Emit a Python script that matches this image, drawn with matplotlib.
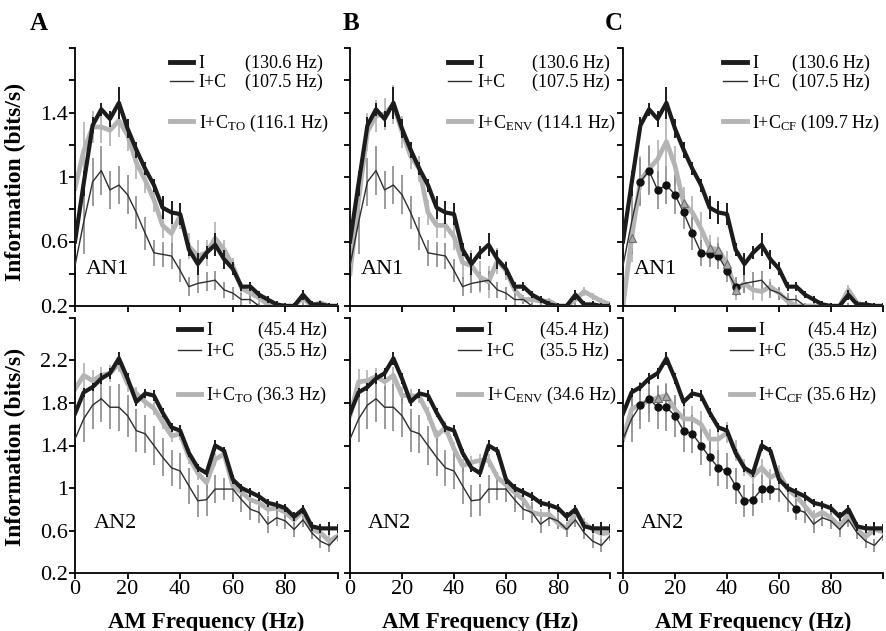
import numpy as np
import matplotlib
matplotlib.use('Agg')
import matplotlib.pyplot as plt
from matplotlib.lines import Line2D

plt.rcParams['font.family'] = ['Liberation Serif', 'DejaVu Serif']
plt.rcParams['mathtext.fontset'] = 'custom'
plt.rcParams['mathtext.rm'] = 'Liberation Serif'
plt.rcParams['mathtext.it'] = 'Liberation Serif:italic'
plt.rcParams['mathtext.bf'] = 'Liberation Serif:bold'

# AM frequency (Hz)
freq = [0, 3.3, 6.7, 10, 13.3, 16.7, 20, 23.3, 26.7, 30, 33.3, 36.7, 40, 43.3, 46.7,
        50, 53.3, 56.7, 60, 63.3, 66.7, 70, 73.3, 76.7, 80, 83.3, 86.7, 90, 93.3, 96.7, 100]

# ---- AN1 (top row) ----
an1_I = [0.60, 0.96, 1.32, 1.42, 1.36, 1.46, 1.30, 1.17, 1.05, 0.95, 0.81, 0.78, 0.77, 0.55, 0.46,
         0.53, 0.58, 0.49, 0.43, 0.32, 0.32, 0.27, 0.24, 0.21, 0.2, 0.2, 0.27, 0.21, 0.21, 0.2, 0.2]
an1_I_err = [0.03, 0.08, 0.05, 0.04, 0.05, 0.10, 0.06, 0.05, 0.04, 0.04, 0.07, 0.07, 0.07, 0.04, 0.07,
             0.04, 0.07, 0.06, 0.04, 0.03, 0.03, 0.02, 0.02, 0.02, 0.02, 0.02, 0.03, 0.02, 0.02, 0.02, 0.02]
an1_IC = [0.45, 0.72, 0.97, 1.04, 0.92, 0.95, 0.89, 0.78, 0.65, 0.53, 0.52, 0.51, 0.42, 0.32, 0.34,
          0.35, 0.36, 0.30, 0.28, 0.24, 0.24, 0.2, 0.2, 0.2, 0.2, 0.2, 0.2, 0.2, 0.2, 0.2, 0.2]
an1_IC_err = [0.10, 0.20, 0.15, 0.15, 0.12, 0.12, 0.12, 0.10, 0.10, 0.08, 0.08, 0.08, 0.07, 0.06, 0.06,
              0.06, 0.06, 0.05, 0.04, 0.04, 0.03, 0.02, 0.02, 0.02, 0.02, 0.02, 0.02, 0.02, 0.02, 0.02, 0.02]
an1_TO = [0.93, 1.16, 1.31, 1.31, 1.29, 1.35, 1.26, 1.09, 0.98, 0.86, 0.70, 0.65, 0.76, 0.57, 0.51,
          0.53, 0.62, 0.55, 0.45, 0.31, 0.28, 0.25, 0.21, 0.2, 0.2, 0.2, 0.25, 0.2, 0.22, 0.2, 0.2]
an1_TO_err = [0.15, 0.18, 0.10, 0.10, 0.10, 0.10, 0.10, 0.10, 0.08, 0.08, 0.08, 0.08, 0.08, 0.08, 0.10,
              0.08, 0.10, 0.06, 0.05, 0.04, 0.03, 0.03, 0.02, 0.02, 0.02, 0.02, 0.03, 0.02, 0.02, 0.02, 0.02]
an1_ENV = [0.40, 0.86, 1.28, 1.38, 1.39, 1.45, 1.28, 1.13, 1.05, 0.78, 0.70, 0.70, 0.63, 0.47, 0.45,
           0.38, 0.35, 0.48, 0.42, 0.30, 0.24, 0.24, 0.23, 0.23, 0.2, 0.2, 0.24, 0.29, 0.26, 0.23, 0.21]
an1_ENV_err = [0.10, 0.18, 0.12, 0.10, 0.10, 0.12, 0.10, 0.08, 0.08, 0.08, 0.08, 0.08, 0.08, 0.10, 0.10,
               0.10, 0.10, 0.08, 0.06, 0.04, 0.03, 0.03, 0.02, 0.02, 0.02, 0.02, 0.03, 0.03, 0.02, 0.02, 0.02]
an1_CF = [0.2, 0.62, 0.98, 1.05, 1.11, 1.22, 1.07, 0.84, 0.78, 0.68, 0.56, 0.55, 0.46, 0.30, 0.34,
          0.30, 0.29, 0.32, 0.28, 0.23, 0.2, 0.2, 0.2, 0.2, 0.2, 0.2, 0.30, 0.22, 0.2, 0.2, 0.2]
an1_CF_err = [0.05, 0.15, 0.15, 0.15, 0.12, 0.15, 0.12, 0.10, 0.10, 0.10, 0.08, 0.08, 0.08, 0.06, 0.06,
              0.06, 0.06, 0.05, 0.04, 0.03, 0.02, 0.02, 0.02, 0.02, 0.02, 0.02, 0.03, 0.02, 0.02, 0.02, 0.02]

# ---- AN2 (bottom row) ----
an2_I = [1.70, 1.90, 1.95, 2.03, 2.08, 2.22, 2.03, 1.81, 1.89, 1.87, 1.71, 1.57, 1.54, 1.33, 1.19,
         1.14, 1.40, 1.35, 1.08, 1.00, 0.96, 0.92, 0.86, 0.84, 0.81, 0.73, 0.80, 0.64, 0.62, 0.62, 0.62]
an2_I_err = [0.04, 0.04, 0.04, 0.05, 0.05, 0.06, 0.05, 0.04, 0.04, 0.05, 0.04, 0.04, 0.05, 0.04, 0.04,
             0.04, 0.05, 0.04, 0.04, 0.04, 0.04, 0.04, 0.04, 0.04, 0.04, 0.04, 0.04, 0.04, 0.04, 0.06, 0.04]
an2_IC = [1.46, 1.65, 1.78, 1.84, 1.76, 1.76, 1.68, 1.54, 1.51, 1.40, 1.29, 1.19, 1.16, 1.02, 0.88,
          0.89, 0.99, 0.99, 0.99, 0.89, 0.80, 0.77, 0.66, 0.72, 0.69, 0.61, 0.70, 0.58, 0.50, 0.46, 0.55]
an2_IC_err = [0.10, 0.22, 0.22, 0.22, 0.20, 0.22, 0.20, 0.20, 0.18, 0.18, 0.18, 0.17, 0.17, 0.17, 0.15,
              0.15, 0.13, 0.10, 0.12, 0.12, 0.10, 0.10, 0.08, 0.08, 0.08, 0.07, 0.07, 0.06, 0.06, 0.06, 0.05]
an2_TO = [1.93, 2.06, 2.01, 2.06, 2.08, 2.17, 1.98, 1.89, 1.81, 1.75, 1.62, 1.49, 1.51, 1.29, 1.14,
          1.05, 1.27, 1.32, 1.02, 0.96, 0.89, 0.86, 0.80, 0.81, 0.77, 0.70, 0.78, 0.61, 0.58, 0.50, 0.55]
an2_TO_err = [0.10, 0.12, 0.10, 0.08, 0.08, 0.08, 0.08, 0.06, 0.06, 0.06, 0.06, 0.06, 0.06, 0.06, 0.06,
              0.06, 0.06, 0.05, 0.05, 0.05, 0.05, 0.05, 0.05, 0.05, 0.05, 0.05, 0.05, 0.05, 0.05, 0.06, 0.06]
an2_ENV = [1.68, 2.00, 2.01, 2.05, 2.00, 2.06, 1.87, 1.87, 1.86, 1.70, 1.49, 1.57, 1.37, 1.21, 1.24,
           1.26, 1.26, 1.10, 1.03, 0.96, 0.89, 0.77, 0.75, 0.75, 0.67, 0.62, 0.77, 0.67, 0.61, 0.57, 0.58]
an2_ENV_err = [0.10, 0.12, 0.10, 0.08, 0.08, 0.08, 0.08, 0.06, 0.06, 0.06, 0.06, 0.06, 0.06, 0.06, 0.06,
               0.06, 0.06, 0.05, 0.05, 0.05, 0.05, 0.05, 0.05, 0.05, 0.05, 0.05, 0.05, 0.05, 0.05, 0.06, 0.06]
an2_CF = [1.46, 1.74, 1.79, 1.82, 1.85, 1.87, 1.74, 1.65, 1.65, 1.60, 1.46, 1.46, 1.52, 1.35, 1.19,
          1.11, 1.19, 1.10, 1.14, 0.99, 0.92, 0.83, 0.73, 0.77, 0.72, 0.64, 0.75, 0.61, 0.54, 0.61, 0.59]
an2_CF_err = [0.12, 0.15, 0.15, 0.12, 0.12, 0.12, 0.12, 0.12, 0.12, 0.12, 0.10, 0.10, 0.10, 0.10, 0.08,
              0.08, 0.08, 0.08, 0.08, 0.06, 0.06, 0.06, 0.06, 0.06, 0.06, 0.06, 0.06, 0.06, 0.06, 0.06, 0.06]

# significant points in panel C (circles on I+C, triangles on I+C_CF)
an1_circ = [2, 3, 4, 5, 6, 7, 8, 9, 10, 11, 12, 13]
an1_tri = [1, 7, 10, 11, 12, 13]
an2_circ = [2, 3, 4, 5, 6, 7, 8, 9, 10, 11, 12, 13, 14, 15, 16, 17, 20]
an2_tri = [4, 5]

hz_top = ['(130.6 Hz)', '(107.5 Hz)']
hz_bot = ['(45.4 Hz)', '(35.5 Hz)']
x_names = [r'I+C$_{\mathrm{TO}}$', r'I+C$_{\mathrm{ENV}}$', r'I+C$_{\mathrm{CF}}$']
x_hz_top = ['116.1', '114.1', '109.7']
x_hz_bot = ['36.3', '34.6', '35.6']
letters = ['A', 'B', 'C']

BLACK = '#1c1c1c'
THIN = '#2e2e2e'
GRAY = '#b4b4b4'
EBAR_THIN = '#8a8a8a'
EBAR_GRAY = '#bdbdbd'

fig = plt.figure(figsize=(8.86, 6.31), dpi=100)
W, H = 886.0, 631.0
col_left = [75, 350, 623]
col_w = [263, 260, 260]
row_pix = [(48, 306), (318, 573)]
letter_x = [30, 343, 605]

top_data = [(an1_TO, an1_TO_err), (an1_ENV, an1_ENV_err), (an1_CF, an1_CF_err)]
bot_data = [(an2_TO, an2_TO_err), (an2_ENV, an2_ENV_err), (an2_CF, an2_CF_err)]

# legend placement: handle left edge (axes frac), first-row centre (px), row spacing
leg_x = [[0.36, 0.377, 0.385], [0.39, 0.415, 0.41]]
leg_row1 = [65, 332]
leg_spacing = [0.12, 0.22]
hz_x = [[0.645, 0.70, 0.65], [0.695, 0.73, 0.71]]


def draw(ax, I, I_err, IC, IC_err, X, X_err, circ=None, tri=None):
    f = np.array(freq)
    ax.errorbar(f, X, yerr=X_err, fmt='none', ecolor=EBAR_GRAY, elinewidth=1.4, capsize=0, zorder=1)
    ax.errorbar(f, IC, yerr=IC_err, fmt='none', ecolor=EBAR_THIN, elinewidth=1.2, capsize=0, zorder=1)
    ax.errorbar(f, I, yerr=I_err, fmt='none', ecolor=BLACK, elinewidth=1.4, capsize=0, zorder=3)
    ax.plot(f, X, color=GRAY, lw=3.4, zorder=2)
    ax.plot(f, I, color=BLACK, lw=3.0, zorder=3)
    ax.plot(f, IC, color=THIN, lw=1.0, zorder=4)
    if circ is not None:
        ax.plot(f[circ], np.array(IC)[circ], 'o', color='#111111', ms=5, zorder=5)
    if tri is not None:
        ax.plot(f[tri], np.array(X)[tri], '^', mfc='#a8a8a8', mec='#6e6e6e', mew=0.8, ms=6, zorder=5)


pending = []
for r in range(2):
    for c in range(3):
        y0, y1 = row_pix[r]
        ax = fig.add_axes([col_left[c] / W, 1 - y1 / H, col_w[c] / W, (y1 - y0) / H])
        if r == 0:
            X, X_err = top_data[c]
            draw(ax, an1_I, an1_I_err, an1_IC, an1_IC_err, X, X_err,
                 an1_circ if c == 2 else None, an1_tri if c == 2 else None)
            ax.set_ylim(0.2, 1.8)
            ax.set_yticks([0.2, 0.4, 0.6, 0.8, 1.0, 1.2, 1.4, 1.6, 1.8])
            ax.set_yticklabels(['0.2', '', '0.6', '', '1', '', '1.4', '', ''] if c == 0 else [])
            ax.set_xticks([0, 20, 40, 60, 80, 100])
            ax.set_xticklabels([])
            hz = hz_top
            xhz = x_hz_top[c]
            tag = 'AN1'
            tag_pos = (0.04, 0.14)
        else:
            X, X_err = bot_data[c]
            draw(ax, an2_I, an2_I_err, an2_IC, an2_IC_err, X, X_err,
                 an2_circ if c == 2 else None, an2_tri if c == 2 else None)
            ax.set_ylim(0.2, 2.6)
            ax.set_yticks([0.2, 0.6, 1.0, 1.4, 1.8, 2.2, 2.6])
            ax.set_yticklabels(['0.2', '0.6', '1', '1.4', '1.8', '2.2', ''] if c == 0 else [])
            ax.set_xticks([0, 20, 40, 60, 80, 100])
            ax.set_xticklabels(['0', '20', '40', '60', '80', ''])
            ax.set_xlabel('AM Frequency (Hz)', fontsize=16.5, fontweight='bold', labelpad=9)
            hz = hz_bot
            xhz = x_hz_bot[c]
            tag = 'AN2'
            tag_pos = (0.07, 0.195)
        ax.set_xlim(0, 100)
        for s in ['top', 'right']:
            ax.spines[s].set_visible(False)
        for s in ['left', 'bottom']:
            ax.spines[s].set_linewidth(1.3)
        ax.tick_params(direction='out', length=4, width=1.3, labelsize=16, pad=1)

        handles = [Line2D([], [], color=BLACK, lw=3.5),
                   Line2D([], [], color=THIN, lw=1.0),
                   Line2D([], [], lw=0),
                   Line2D([], [], color=GRAY, lw=3.5)]
        labels = ['I', 'I+C', '', x_names[c] + ' (' + xhz + ' Hz)']
        top_frac = (y1 - (leg_row1[r] - 10)) / (y1 - y0)
        leg = ax.legend(handles, labels, loc='upper left', bbox_to_anchor=(leg_x[r][c], top_frac),
                        frameon=False, fontsize=13, handlelength=1.3, handletextpad=0.3,
                        labelspacing=leg_spacing[r], borderpad=0, borderaxespad=0)
        ax.text(tag_pos[0], tag_pos[1], tag, transform=ax.transAxes, fontsize=16, va='center')
        pending.append((ax, leg, hz, hz_x[r][c]))

    for c in range(3):
        if r == 0:
            fig.text(letter_x[c] / W, 1 - 24 / H, letters[c], fontsize=18, fontweight='bold', va='center')

# align the Hz values with the legend rows
fig.canvas.draw()
for ax, leg, hz, xpos in pending:
    for t, s in zip(leg.get_texts()[:2], hz):
        bb = t.get_window_extent()
        yc = ax.transAxes.inverted().transform((0, (bb.y0 + bb.y1) / 2))[1]
        ax.text(xpos, yc, s, transform=ax.transAxes, fontsize=13, va='center')

fig.text(0.017, 1 - 182 / H, 'Information (bits/s)', rotation=90, fontsize=17,
         fontweight='bold', ha='center', va='center')
fig.text(0.017, 1 - 447 / H, 'Information (bits/s)', rotation=90, fontsize=17,
         fontweight='bold', ha='center', va='center')

fig.savefig('out.png', dpi=100)
